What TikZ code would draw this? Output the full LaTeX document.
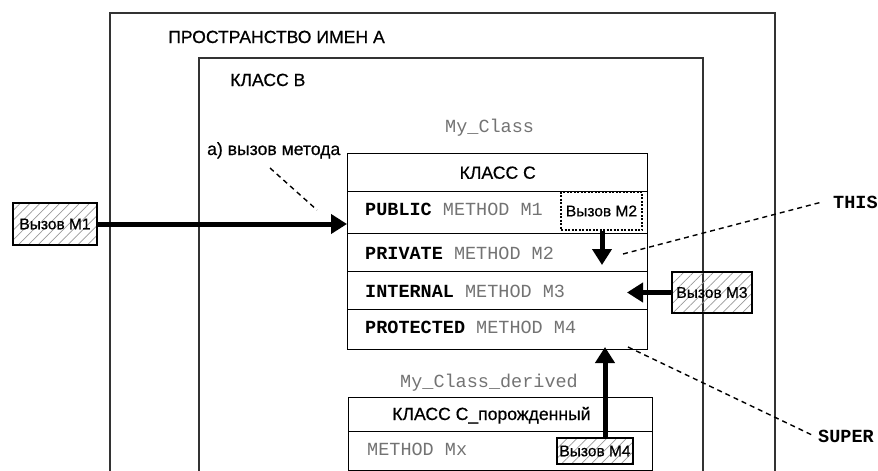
\documentclass[tikz,border=0pt]{standalone}
\usepackage{fontspec}
\setmainfont{Liberation Sans}
\setmonofont{Liberation Mono}
\newfontfamily\lblfont[FakeBold=0.6]{Liberation Sans}
\usetikzlibrary{arrows.meta,patterns.meta}
\begin{document}
\begin{tikzpicture}[x=1pt,y=-1pt,
  frame/.style={line width=1.8pt, draw=black!80},
  cell/.style={draw, line width=1.4pt, anchor=north west, inner sep=0pt},
  sanslbl/.style={font=\lblfont\fontsize{17.6}{20}\selectfont, inner sep=0pt, anchor=base west},
  monolbl/.style={font=\ttfamily\fontsize{18.5}{22}\selectfont, inner sep=0pt, anchor=base west, text=black!55},
  kwlbl/.style={font=\ttfamily\bfseries\fontsize{18.5}{22}\selectfont, inner sep=0pt, anchor=base west},
  callbox/.style={draw, line width=1.3pt, inner sep=0pt, font=\lblfont\fontsize{15.5}{18}\selectfont,
    pattern={Lines[angle=45,distance=7pt,line width=0.7pt]}, pattern color=black!40},
  dotbox/.style={draw, line width=1.2pt, dash pattern=on 2pt off 1.5pt, fill=white, inner sep=0pt, font=\lblfont\fontsize{15.5}{18}\selectfont},
  callarrow/.style={line width=5pt, -{Triangle[length=16pt,width=19pt]}},
  leader/.style={line width=1.4pt, dash pattern=on 5pt off 4pt}]
\useasboundingbox (0,0) rectangle (878,471);

% namespace A and class B frames
\draw[frame] (110,480) |- (775,13) -- (775,480);
\draw[frame] (199,480) |- (703,58) -- (703,480);
\node[sanslbl] (nsA) at (168,43) {ПРОСТРАНСТВО ИМЕН А};
\node[sanslbl] (clsB) at (230,86) {КЛАСС В};

% class C
\node[monolbl] (myclass) at (445,132) {My\_Class};
\node[cell, minimum width=300pt, minimum height=38pt] (hdrC) at (347,153) {};
\node[font=\lblfont\fontsize{17.6}{20}\selectfont, inner sep=0pt] (hdrCtxt) at (hdrC.center) {КЛАСС С};
\node[cell, minimum width=300pt, minimum height=42pt] (r1) at (347,191) {};
\node[cell, minimum width=300pt, minimum height=38pt] (r2) at (347,233) {};
\node[cell, minimum width=300pt, minimum height=38pt] (r3) at (347,271) {};
\node[cell, minimum width=300pt, minimum height=40pt] (r4) at (347,309) {};
\node[monolbl] (r1t) at (365,215) {{\color{black}\bfseries PUBLIC} METHOD M1};
\node[monolbl] (r2t) at (365,259) {{\color{black}\bfseries PRIVATE} METHOD M2};
\node[monolbl] (r3t) at (365,297) {{\color{black}\bfseries INTERNAL} METHOD M3};
\node[monolbl] (r4t) at (365,333) {{\color{black}\bfseries PROTECTED} METHOD M4};

% derived class
\node[monolbl] (mycd) at (400,387) {My\_Class\_derived};
\node[cell, minimum width=304pt, minimum height=34pt] (hdrD) at (348,397) {};
\node[cell, minimum width=304pt, minimum height=39pt] (bodyD) at (348,431) {};
\node[sanslbl] (hdrDtxt) at (392,420) {КЛАСС С\_порожденный};
\node[monolbl] (mx) at (367,455) {METHOD Mx};

% call boxes
\node[callbox, minimum width=84pt, minimum height=42pt] (m1) at (55,224) {Вызов М1};
\node[dotbox, minimum width=81pt, minimum height=38pt] (m2) at (601.5,211) {Вызов М2};
\node[callbox, minimum width=80pt, minimum height=41pt] (m3) at (712,292.5) {Вызов М3};
\node[callbox, minimum width=76pt, minimum height=26pt] (m4) at (595,451) {Вызов М4};

% arrows
\coordinate (m2tip) at (602,265);
\coordinate (m3tip) at (627,292.5);
\coordinate (m4start) at (605,438);
\coordinate (m4tip) at (605,347);
\draw[callarrow] (m1.east) -- (r1.west |- m1.east);
\draw[callarrow] (m2.south -| m2tip) -- (m2tip);
\draw[callarrow] (m3.west) -- (m3tip);
\draw[callarrow] (m4start) -- (m4tip);

% annotations
\node[sanslbl] (callLbl) at (207,155) {а) вызов метода};
\coordinate (cl1) at (270,168);
\coordinate (cl2) at (317,210);
\draw[leader] (cl1) -- (cl2);
\node[kwlbl] (this) at (833,208) {THIS};
\coordinate (th1) at (623,254);
\coordinate (th2) at (822,202);
\draw[leader] (th1) -- (th2);
\node[kwlbl] (super) at (818,442) {SUPER};
\coordinate (su1) at (628,347);
\coordinate (su2) at (812,435);
\draw[leader] (su1) -- (su2);
\end{tikzpicture}
\end{document}
